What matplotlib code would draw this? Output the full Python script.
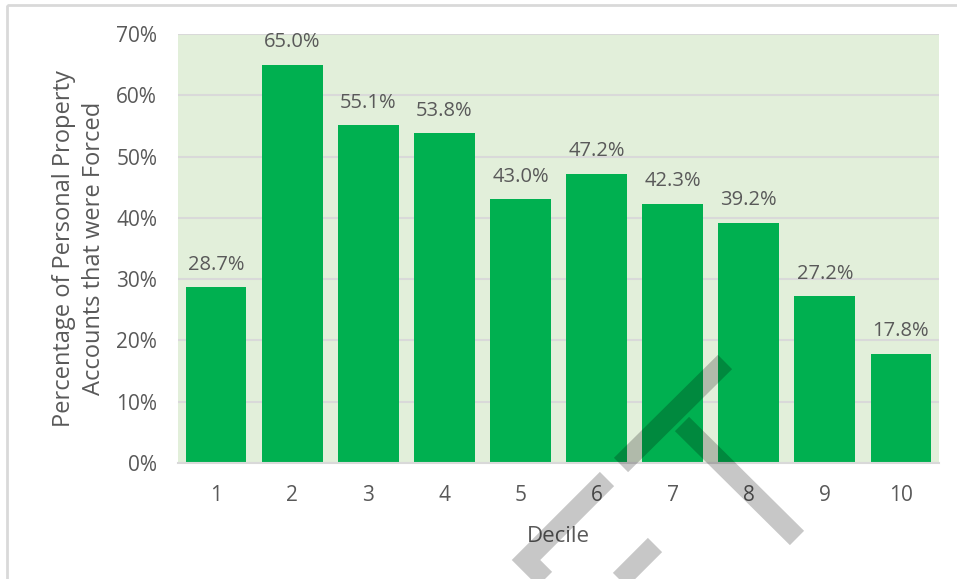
import numpy as np
import matplotlib
matplotlib.use("Agg")
import matplotlib.pyplot as plt
from matplotlib.patches import Rectangle
from matplotlib.transforms import Affine2D

# Data
deciles = ["1", "2", "3", "4", "5", "6", "7", "8", "9", "10"]
pct_forced = [28.7, 65.0, 55.1, 53.8, 43.0, 47.2, 42.3, 39.2, 27.2, 17.8]
y_ticks = [0, 10, 20, 30, 40, 50, 60, 70]

plt.rcParams['font.family'] = ['Open Sans', 'DejaVu Sans']
text_col = "#595959"
grid_col = "#D9D9D9"

W, H = 957, 579
fig = plt.figure(figsize=(W / 100, H / 100), dpi=100)
ax = fig.add_axes([178 / W, 1 - 463 / H, (939 - 178) / W, (463 - 34) / H])
ax.set_facecolor("#E2EFDA")

x = np.arange(len(deciles))
bars = ax.bar(x, pct_forced, width=0.8, color="#00B050", zorder=3)

for xi, v in zip(x, pct_forced):
    ax.annotate(f"{v:.1f}%", (xi, v), xytext=(0, 9), textcoords="offset points",
                ha="center", va="bottom", fontsize=14.5, color=text_col)

ax.set_xlim(-0.5, len(deciles) - 0.5)
ax.set_ylim(0, 70)
ax.set_yticks(y_ticks)
ax.set_yticklabels([f"{t}%" for t in y_ticks])
ax.set_xticks(x)
ax.set_xticklabels(deciles)
ax.tick_params(length=0, labelsize=15, labelcolor=text_col)
ax.tick_params(axis="x", pad=16)
ax.tick_params(axis="y", pad=15)
ax.grid(axis="y", color=grid_col, linewidth=1.5, zorder=1)
for s in ["top", "right", "left"]:
    ax.spines[s].set_visible(False)
ax.spines["bottom"].set_color(grid_col)
ax.spines["bottom"].set_linewidth(1.5)
ax.spines["bottom"].set_zorder(4)

ax.set_xlabel("Decile", fontsize=16, color=text_col, labelpad=14)
ax.set_ylabel("Percentage of Personal Property\nAccounts that were Forced",
              fontsize=17, color=text_col, labelpad=7, linespacing=1.35)

# outer chart border
fig.patches.append(Rectangle((7, H - 5), W, -H, transform=None, fill=False,
                             edgecolor=grid_col, linewidth=2, figure=fig))

# watermark strokes (pixel coordinates, origin top-left)
flip = Affine2D().scale(1, -1).translate(0, H)
strokes = [
    [(621, 465), (725, 362)],
    [(682, 424), (797, 538)],
    [(607, 479), (526, 560), (545, 579)],
    [(655, 545), (615, 585)],
]
for pts in strokes:
    xs, ys = zip(*pts)
    fig.add_artist(plt.Line2D(xs, ys, transform=flip, color="black", alpha=0.22,
                              linewidth=14.5, solid_capstyle="butt",
                              solid_joinstyle="miter", zorder=10))

fig.savefig("out.png", dpi=100)
